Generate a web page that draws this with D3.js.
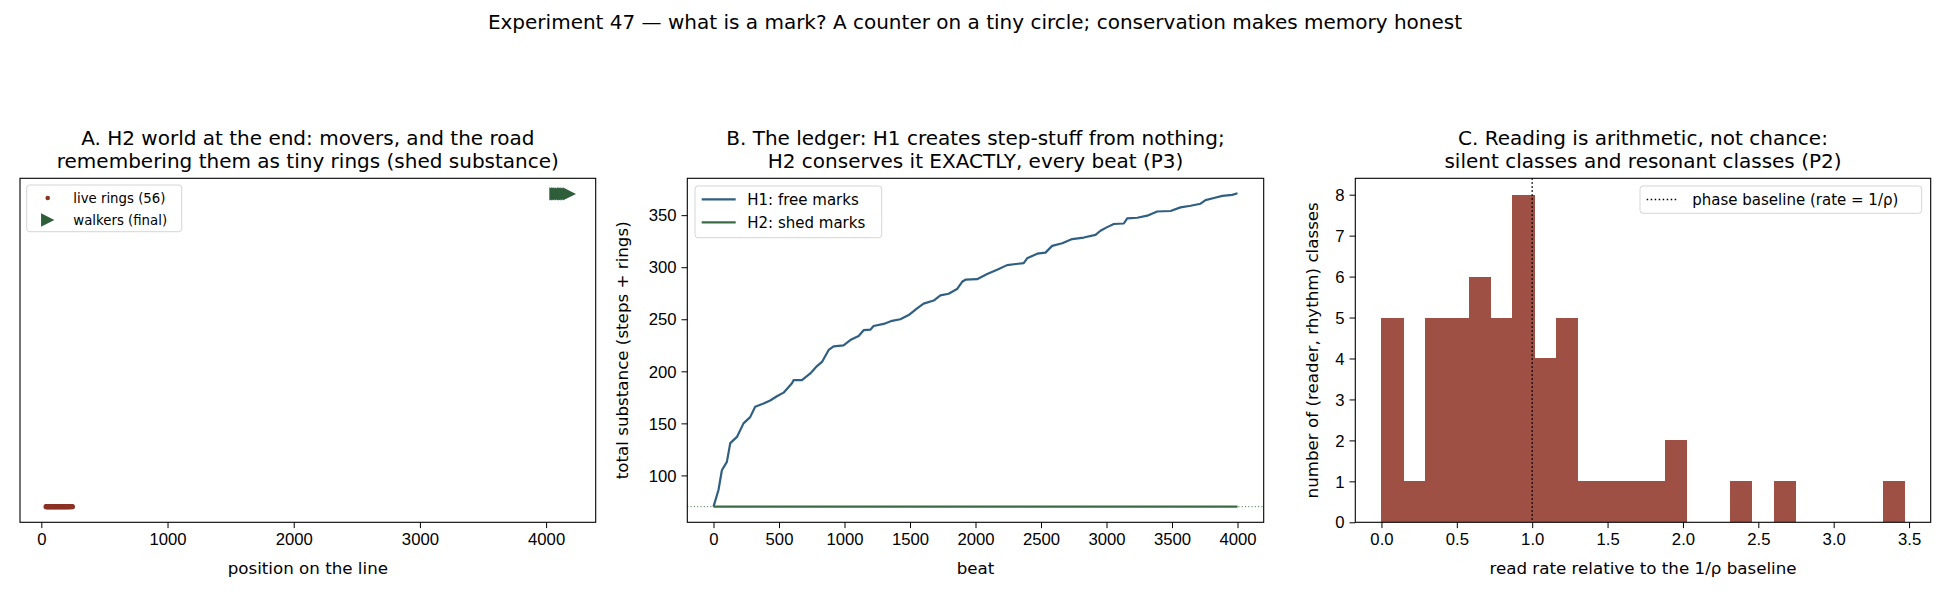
<!DOCTYPE html>
<html>
<head>
<meta charset="utf-8">
<script src="https://cdn.jsdelivr.net/npm/d3@7"></script>
<style>
  body { margin: 0; background: #fff; }
  svg { display: block; font-family: "DejaVu Sans", sans-serif; }
</style>
</head>
<body>
<div id="chart"></div>
<script>
var width = 1950;
var height = 598;

// panel A: final world state
var ringPositions = [38, 41, 45, 48, 52, 55, 58, 62, 66, 69, 72, 76, 80, 83, 87, 90, 94, 97, 101, 105,
    108, 112, 115, 119, 122, 126, 130, 133, 137, 140, 144, 148, 151, 155, 158, 162, 166, 169, 173, 176,
    180, 184, 187, 191, 195, 198, 202, 206, 210, 214, 218, 223, 228, 233, 239, 246];
var walkerPositions = [4078, 4092, 4105, 4121, 4138, 4150, 4166, 4184];

// panel B: ledger
var h1Beats = [0, 38, 64, 102, 128, 179, 229, 280, 318, 382, 433, 484, 535, 599, 611, 675, 739, 790, 828, 879,
    917, 993, 1044, 1108, 1146, 1197, 1222, 1299, 1363, 1426, 1490, 1554, 1604, 1681, 1732, 1795, 1859, 1898,
    1923, 2012, 2089, 2165, 2241, 2368, 2394, 2471, 2534, 2585, 2662, 2738, 2827, 2916, 2954, 3005, 3056,
    3132, 3158, 3235, 3311, 3387, 3489, 3565, 3642, 3718, 3756, 3820, 3884, 3960, 4000];
var h1Values = [70, 86, 105, 113, 131, 137, 150, 156, 166, 169, 172, 176, 179.5, 188.5, 191.5, 191.5, 198, 205, 209, 220.5,
    224, 225, 230, 234, 239.5, 240, 243.5, 245.5, 248.5, 250, 254, 260.5, 265, 268, 273, 274.5, 279, 286,
    288, 288.5, 293.5, 297.5, 302, 304, 308.5, 313, 314, 320.5, 323, 327, 328.5, 331, 335, 338.5, 341.5,
    342, 347, 347.5, 349.5, 353.5, 354, 357.5, 359, 361, 364.5, 366.5, 368.5, 369.5, 371];
var h2Beats = [0, 4000];
var h2Values = [70, 70];
var conservedTotal = 70;

// panel C: histogram of read rates
var histRange = [0, 3.47];
var histCounts = [5, 1, 5, 5, 6, 5, 8, 4, 5, 1, 1, 1, 1, 2, 0, 0, 1, 0, 1, 0, 0, 0, 0, 1];
var baselineRate = 1.0;

var ticksA = [0, 1000, 2000, 3000, 4000];
var ticksBx = [0, 500, 1000, 1500, 2000, 2500, 3000, 3500, 4000];
var ticksBy = [100, 150, 200, 250, 300, 350];
var ticksCx = [0, 0.5, 1, 1.5, 2, 2.5, 3, 3.5];
var ticksCy = [0, 1, 2, 3, 4, 5, 6, 7, 8];

var ringColor = "#8b3325";
var walkerColor = "#2f5e3a";
var h1Color = "#2f5f82";
var h2Color = "#3a6b45";
var barColor = "#9e5044";

var plotTop = 178.3, plotBottom = 522.3;
var panels = {
    A: { left: 20, right: 595.7 },
    B: { left: 687.3, right: 1263.7 },
    C: { left: 1355.3, right: 1930.7 }
};

var svgElement = d3.select("#chart").append("svg")
    .attr("width", width)
    .attr("height", height);

svgElement.append("text")
    .attr("x", width / 2).attr("y", 28.5)
    .attr("text-anchor", "middle")
    .style("font-size", "20px")
    .text("Experiment 47 \u2014 what is a mark? A counter on a tiny circle; conservation makes memory honest");

function panelTitle(p, lines) {
    var cx = (p.left + p.right) / 2;
    lines.forEach(function (t, i) {
        svgElement.append("text")
            .attr("x", cx).attr("y", 145 + i * 23)
            .attr("text-anchor", "middle")
            .style("font-size", "20px")
            .text(t);
    });
}

function xAxis(x, ticks, fmt) {
    var g = svgElement.append("g").attr("transform", "translate(0," + plotBottom + ")")
        .call(d3.axisBottom(x).tickValues(ticks).tickSize(5.8).tickPadding(5).tickFormat(fmt));
    g.select(".domain").remove();
    g.selectAll("line").attr("stroke", "#000").attr("stroke-width", 1);
    g.selectAll("text").style("font-size", "16.7px").attr("fill", "#000").attr("dy", "0.74em");
}

function yAxis(p, y, ticks, fmt) {
    var g = svgElement.append("g").attr("transform", "translate(" + p.left + ",0)")
        .call(d3.axisLeft(y).tickValues(ticks).tickSize(5.8).tickPadding(5).tickFormat(fmt));
    g.select(".domain").remove();
    g.selectAll("line").attr("stroke", "#000").attr("stroke-width", 1);
    g.selectAll("text").style("font-size", "16.7px").attr("fill", "#000").attr("dy", "0.34em");
}

function frame(p) {
    svgElement.append("rect")
        .attr("x", p.left).attr("y", plotTop)
        .attr("width", p.right - p.left).attr("height", plotBottom - plotTop)
        .attr("fill", "none").attr("stroke", "#000").attr("stroke-width", 1.1);
}

function xLabel(p, t) {
    svgElement.append("text")
        .attr("x", (p.left + p.right) / 2).attr("y", 573.5)
        .attr("text-anchor", "middle")
        .style("font-size", "16.7px")
        .text(t);
}

function yLabel(x, t) {
    svgElement.append("text")
        .attr("transform", "translate(" + x + "," + ((plotTop + plotBottom) / 2) + ") rotate(-90)")
        .attr("text-anchor", "middle")
        .style("font-size", "16.7px")
        .text(t);
}

function legendBox(x, y, w, h) {
    svgElement.append("rect")
        .attr("x", x).attr("y", y).attr("width", w).attr("height", h)
        .attr("rx", 3).attr("ry", 3)
        .attr("fill", "#fff").attr("fill-opacity", 0.8)
        .attr("stroke", "#d5d5d5").attr("stroke-width", 1);
}

function triangle(cx, cy, s) {
    return "M" + (cx + s / 2) + "," + cy + "L" + (cx - s / 2) + "," + (cy - s / 2) + "L" + (cx - s / 2) + "," + (cy + s / 2) + "Z";
}

// ---------- panel A
var pA = panels.A;
var xA = d3.scaleLinear().domain([-169, 4393]).range([pA.left, pA.right]);
var yA = d3.scaleLinear().domain([-0.05, 1.05]).range([plotBottom, plotTop]);

panelTitle(pA, ["A. H2 world at the end: movers, and the road",
    "remembering them as tiny rings (shed substance)"]);

svgElement.append("g").selectAll("circle").data(ringPositions).enter().append("circle")
    .attr("cx", function (d) { return xA(d); })
    .attr("cy", yA(0))
    .attr("r", 2.6)
    .attr("fill", ringColor);

svgElement.append("g").selectAll("path").data(walkerPositions).enter().append("path")
    .attr("d", function (d) { return triangle(xA(d), yA(1), 13.3); })
    .attr("fill", walkerColor);

frame(pA);
xAxis(xA, ticksA, d3.format("d"));
xLabel(pA, "position on the line");

legendBox(26.7, 185, 155, 46.7);
svgElement.append("circle").attr("cx", 47.7).attr("cy", 198).attr("r", 2.3).attr("fill", ringColor);
svgElement.append("path").attr("d", triangle(47.7, 220, 13.3)).attr("fill", walkerColor);
svgElement.append("text").attr("x", 73.3).attr("y", 202.5).style("font-size", "13.3px").text("live rings (56)");
svgElement.append("text").attr("x", 73.3).attr("y", 224.5).style("font-size", "13.3px").text("walkers (final)");

// ---------- panel B
var pB = panels.B;
var xB = d3.scaleLinear().domain([-200, 4200]).range([pB.left, pB.right]);
var yB = d3.scaleLinear().domain([54.97, 385.4]).range([plotBottom, plotTop]);

panelTitle(pB, ["B. The ledger: H1 creates step-stuff from nothing;",
    "H2 conserves it EXACTLY, every beat (P3)"]);

svgElement.append("line")
    .attr("x1", pB.left).attr("x2", pB.right)
    .attr("y1", yB(conservedTotal)).attr("y2", yB(conservedTotal))
    .attr("stroke", h2Color).attr("stroke-width", 1).attr("stroke-dasharray", "1,2.3");

var lineB = d3.line()
    .x(function (d) { return xB(d[0]); })
    .y(function (d) { return yB(d[1]); });

svgElement.append("path")
    .datum(d3.zip(h1Beats, h1Values))
    .attr("d", lineB)
    .attr("fill", "none").attr("stroke", h1Color).attr("stroke-width", 2.2)
    .attr("stroke-linejoin", "round");

svgElement.append("path")
    .datum(d3.zip(h2Beats, h2Values))
    .attr("d", lineB)
    .attr("fill", "none").attr("stroke", h2Color).attr("stroke-width", 2.2);

frame(pB);
xAxis(xB, ticksBx, d3.format("d"));
yAxis(pB, yB, ticksBy, d3.format("d"));
xLabel(pB, "beat");
yLabel(628, "total substance (steps + rings)");

legendBox(695, 186, 186.7, 51.7);
svgElement.append("line").attr("x1", 701.7).attr("x2", 735.7).attr("y1", 199.3).attr("y2", 199.3)
    .attr("stroke", h1Color).attr("stroke-width", 2.2);
svgElement.append("line").attr("x1", 701.7).attr("x2", 735.7).attr("y1", 222.3).attr("y2", 222.3)
    .attr("stroke", h2Color).attr("stroke-width", 2.2);
svgElement.append("text").attr("x", 747.3).attr("y", 204.6).style("font-size", "15px").text("H1: free marks");
svgElement.append("text").attr("x", 747.3).attr("y", 227.6).style("font-size", "15px").text("H2: shed marks");

// ---------- panel C
var pC = panels.C;
var xC = d3.scaleLinear().domain([-0.1735, 3.6435]).range([pC.left, pC.right]);
var yC = d3.scaleLinear().domain([0, 8.4]).range([plotBottom, plotTop]);
var binWidth = (histRange[1] - histRange[0]) / histCounts.length;

panelTitle(pC, ["C. Reading is arithmetic, not chance:",
    "silent classes and resonant classes (P2)"]);

svgElement.append("g").attr("shape-rendering", "crispEdges")
    .selectAll("rect").data(histCounts).enter().append("rect")
    .attr("x", function (d, i) { return xC(histRange[0] + i * binWidth); })
    .attr("width", function (d, i) { return xC(histRange[0] + (i + 1) * binWidth) - xC(histRange[0] + i * binWidth) + 0.5; })
    .attr("y", function (d) { return yC(d); })
    .attr("height", function (d) { return yC(0) - yC(d); })
    .attr("fill", barColor);

svgElement.append("line")
    .attr("x1", xC(baselineRate)).attr("x2", xC(baselineRate))
    .attr("y1", plotTop).attr("y2", plotBottom)
    .attr("stroke", "#000").attr("stroke-width", 1.5).attr("stroke-dasharray", "1.5,2.5");

frame(pC);
xAxis(xC, ticksCx, d3.format(".1f"));
yAxis(pC, yC, ticksCy, d3.format("d"));
xLabel(pC, "read rate relative to the 1/\u03c1 baseline");
yLabel(1318, "number of (reader, rhythm) classes");

legendBox(1640, 186, 281.7, 27.3);
svgElement.append("line").attr("x1", 1646.7).attr("x2", 1678).attr("y1", 199.5).attr("y2", 199.5)
    .attr("stroke", "#000").attr("stroke-width", 1.5).attr("stroke-dasharray", "1.5,2.5");
svgElement.append("text").attr("x", 1692.3).attr("y", 205).style("font-size", "15px")
    .text("phase baseline (rate = 1/\u03c1)");
</script>
</body>
</html>
